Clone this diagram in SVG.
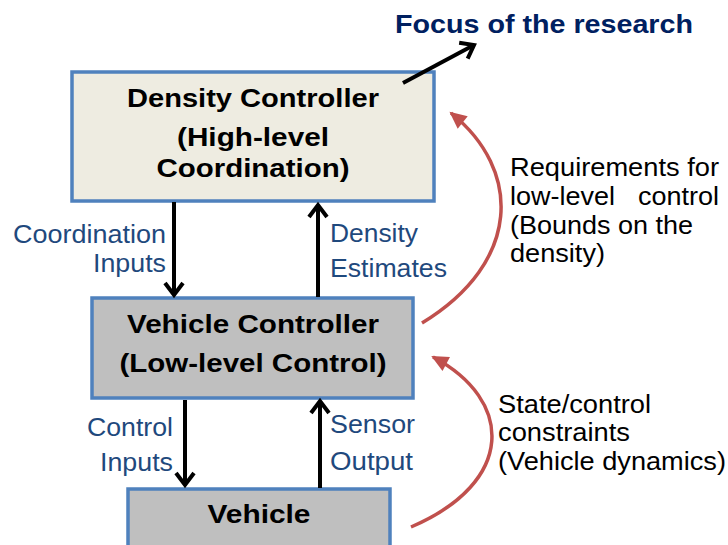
<svg xmlns="http://www.w3.org/2000/svg" width="728" height="545" viewBox="0 0 728 545">
<style>
.box1{fill:#eeece1;stroke:#4f81bd;stroke-width:3.5}
.box2{fill:#bfbfbf;stroke:#4f81bd;stroke-width:3.5}
.bt{font-family:"Liberation Sans",Arial,sans-serif;font-weight:bold;font-size:26px;fill:#000;text-anchor:middle}
.lbl{font-family:"Liberation Sans",Arial,sans-serif;font-size:26px;fill:#1f497d}
.note{font-family:"Liberation Sans",Arial,sans-serif;font-size:26px;fill:#000}
.title{font-family:"Liberation Sans",Arial,sans-serif;font-weight:bold;font-size:25px;fill:#002060}
.blk{stroke:#000;stroke-width:4;fill:none}
.red{stroke:#c0504d;stroke-width:3.5;fill:none}
</style>
<defs>
<marker id="chev" markerUnits="userSpaceOnUse" viewBox="-20 -15 30 30" markerWidth="30" markerHeight="30" refX="0" refY="0" orient="auto">
<path d="M-12,-9 L0,0 L-12,9" fill="none" stroke="#000" stroke-width="4" stroke-linejoin="miter"/>
</marker>
<marker id="tri" markerUnits="userSpaceOnUse" viewBox="-20 -15 30 30" markerWidth="30" markerHeight="30" refX="0" refY="0" orient="auto">
<path d="M2,0 L-15,-8 L-15,8 z" fill="#c0504d"/>
</marker>
</defs>

<text class="title" x="395" y="33" textLength="298" lengthAdjust="spacingAndGlyphs">Focus of the research</text>

<g id="density-controller">
<rect class="box1" x="72" y="72" width="362" height="129"/>
<text class="bt" x="253" y="107" textLength="252" lengthAdjust="spacingAndGlyphs">Density Controller</text>
<text class="bt" x="253" y="146" textLength="152" lengthAdjust="spacingAndGlyphs">(High-level</text>
<text class="bt" x="253" y="177" textLength="193" lengthAdjust="spacingAndGlyphs">Coordination)</text>
</g>

<g id="vehicle-controller">
<rect class="box2" x="92" y="298" width="321" height="100"/>
<text class="bt" x="253" y="333" textLength="252" lengthAdjust="spacingAndGlyphs">Vehicle Controller</text>
<text class="bt" x="253" y="372" textLength="267" lengthAdjust="spacingAndGlyphs">(Low-level Control)</text>
</g>

<g id="vehicle">
<rect class="box2" x="128" y="489" width="262" height="70"/>
<text class="bt" x="259" y="523" textLength="103" lengthAdjust="spacingAndGlyphs">Vehicle</text>
</g>

<g id="connectors">
<line class="blk" x1="403" y1="83" x2="474" y2="45" marker-end="url(#chev)"/>
<line class="blk" x1="174" y1="202" x2="174" y2="295" marker-end="url(#chev)"/>
<line class="blk" x1="318" y1="297" x2="318" y2="205" marker-end="url(#chev)"/>
<line class="blk" x1="185" y1="400" x2="185" y2="485" marker-end="url(#chev)"/>
<line class="blk" x1="320" y1="488" x2="320" y2="401" marker-end="url(#chev)"/>
<path class="red" d="M422,323 C522,262 522,170 451,113" marker-end="url(#tri)"/>
<path class="red" d="M411,527 C516,482 514,400 433,357" marker-end="url(#tri)"/>
</g>

<g id="labels">
<text class="lbl" x="13" y="243" textLength="153" lengthAdjust="spacingAndGlyphs">Coordination</text>
<text class="lbl" x="93" y="272" textLength="73" lengthAdjust="spacingAndGlyphs">Inputs</text>
<text class="lbl" x="330" y="242" textLength="88" lengthAdjust="spacingAndGlyphs">Density</text>
<text class="lbl" x="330" y="277" textLength="117" lengthAdjust="spacingAndGlyphs">Estimates</text>
<text class="lbl" x="87" y="436" textLength="86" lengthAdjust="spacingAndGlyphs">Control</text>
<text class="lbl" x="100" y="471" textLength="73" lengthAdjust="spacingAndGlyphs">Inputs</text>
<text class="lbl" x="330" y="433" textLength="85" lengthAdjust="spacingAndGlyphs">Sensor</text>
<text class="lbl" x="330" y="470" textLength="83" lengthAdjust="spacingAndGlyphs">Output</text>
</g>

<g id="notes">
<text class="note" x="510" y="176" textLength="209" lengthAdjust="spacingAndGlyphs">Requirements for</text>
<text class="note" y="205"><tspan x="510" textLength="105" lengthAdjust="spacingAndGlyphs">low-level</tspan><tspan x="638" textLength="81" lengthAdjust="spacingAndGlyphs">control</tspan></text>
<text class="note" x="510" y="234" textLength="183" lengthAdjust="spacingAndGlyphs">(Bounds on the</text>
<text class="note" x="510" y="262" textLength="95" lengthAdjust="spacingAndGlyphs">density)</text>
<text class="note" x="498" y="413" textLength="153" lengthAdjust="spacingAndGlyphs">State/control</text>
<text class="note" x="498" y="441" textLength="132" lengthAdjust="spacingAndGlyphs">constraints</text>
<text class="note" x="498" y="470" textLength="228" lengthAdjust="spacingAndGlyphs">(Vehicle dynamics)</text>
</g>
</svg>
